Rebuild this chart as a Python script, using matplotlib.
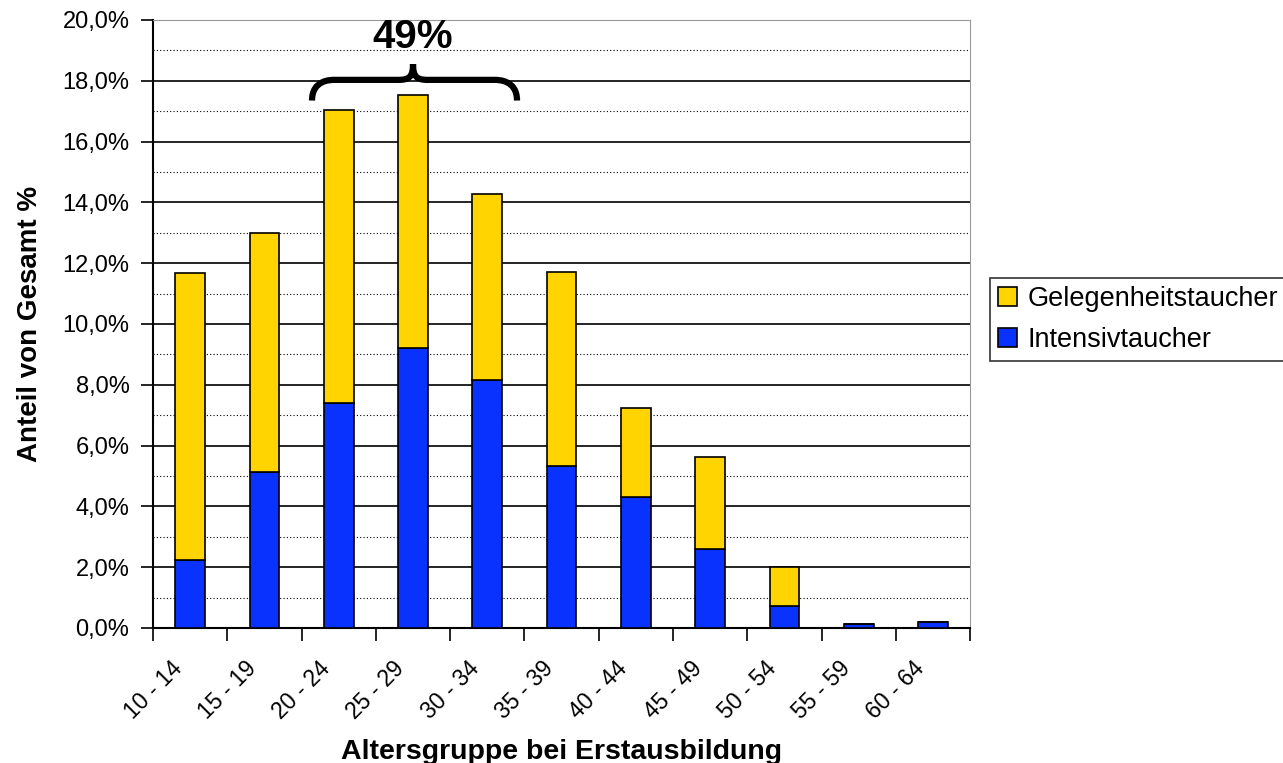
import numpy as np
import matplotlib.pyplot as plt
import matplotlib.transforms as mtrans
from matplotlib.path import Path
from matplotlib.patches import PathPatch
from matplotlib.ticker import MultipleLocator, FuncFormatter

plt.rcParams['font.family'] = ['Liberation Sans', 'DejaVu Sans']

# Altersgruppen und Anteile in %
gruppen = ['10 - 14', '15 - 19', '20 - 24', '25 - 29', '30 - 34', '35 - 39',
           '40 - 44', '45 - 49', '50 - 54', '55 - 59', '60 - 64']
intensiv = [2.24, 5.12, 7.40, 9.21, 8.16, 5.33, 4.31, 2.60, 0.72, 0.13, 0.20]
gesamt = [11.68, 12.99, 17.04, 17.53, 14.28, 11.71, 7.24, 5.63, 2.01, 0.13, 0.20]
gelegenheit = [g - i for g, i in zip(gesamt, intensiv)]

fig = plt.figure(figsize=(12.83, 7.63), dpi=100)
ax = fig.add_axes([0.1193, 0.177, 0.6368, 0.7968])

x = np.arange(len(gruppen))
ax.bar(x, intensiv, width=0.4, color='#0a32ff', edgecolor='black', linewidth=1.2,
       label='Intensivtaucher', zorder=3)
ax.bar(x, gelegenheit, bottom=intensiv, width=0.4, color='#ffd400', edgecolor='black',
       linewidth=1.2, label='Gelegenheitstaucher', zorder=3)

ax.set_xlim(-0.5, len(gruppen) - 0.5)
ax.set_ylim(0, 20)
ax.yaxis.set_major_locator(MultipleLocator(2))
ax.yaxis.set_minor_locator(MultipleLocator(1))
ax.yaxis.set_major_formatter(FuncFormatter(lambda v, p: f'{v:.1f}%'.replace('.', ',')))
ax.grid(axis='y', which='major', color='black', linewidth=1.2, zorder=0)
ax.grid(axis='y', which='minor', color='black', linewidth=0.8, linestyle=(0, (1, 2)), zorder=0)
ax.tick_params(axis='y', which='major', direction='out', length=9, width=1.2, labelsize=17, pad=8)
ax.tick_params(axis='y', which='minor', length=0)

ax.set_xticks(x)
ax.set_xticklabels(gruppen, rotation=45, ha='right', rotation_mode='anchor', fontsize=16.5)
ax.set_xticks(np.arange(-0.5, len(gruppen), 1), minor=True)
ax.tick_params(axis='x', which='major', length=0, pad=21)
ax.tick_params(axis='x', which='minor', direction='out', length=9, width=1.2)
shift = mtrans.ScaledTranslation(-20 / 100, 0, fig.dpi_scale_trans)
for lab in ax.get_xticklabels():
    lab.set_transform(lab.get_transform() + shift)

for s in ['top', 'right']:
    ax.spines[s].set_color('#999999')
for s in ['left', 'bottom']:
    ax.spines[s].set_linewidth(1.5)

ax.set_ylabel('Anteil von Gesamt %', fontsize=20, fontweight='bold', labelpad=14)
ax.set_xlabel('Altersgruppe bei Erstausbildung', fontsize=20.5, fontweight='bold', labelpad=11)

# geschweifte Klammer über 20-34
x0, x1, xm = 1.64, 4.40, 3.0
yb, yl, yt = 17.35, 18.03, 18.55
verts = [(x0, yb), (x0, yl), (x0 + 0.25, yl), (x0 + 0.3, yl),
         (xm - 0.2, yl), (xm - 0.2, yl), (xm - 0.05, yl), (xm, yl + 0.1), (xm, yt),
         (xm, yl + 0.1), (xm + 0.05, yl), (xm + 0.2, yl), (xm + 0.2, yl),
         (x1 - 0.3, yl), (x1 - 0.25, yl), (x1, yl), (x1, yb)]
codes = [Path.MOVETO, Path.CURVE4, Path.CURVE4, Path.CURVE4,
         Path.LINETO, Path.LINETO, Path.CURVE4, Path.CURVE4, Path.CURVE4,
         Path.CURVE4, Path.CURVE4, Path.CURVE4, Path.LINETO,
         Path.LINETO, Path.CURVE4, Path.CURVE4, Path.CURVE4]
ax.add_patch(PathPatch(Path(verts, codes), facecolor='none', edgecolor='black',
                       linewidth=4.5, clip_on=False, zorder=5))
ax.text(xm, 19.45, '49%', ha='center', va='center', fontsize=29, fontweight='bold')

handles, labels = ax.get_legend_handles_labels()
leg = fig.legend(handles[::-1], labels[::-1], loc='upper left',
                 bbox_to_anchor=(990 / 1283, 1 - 278 / 763), fontsize=19.5,
                 frameon=True, fancybox=False, edgecolor='black', handlelength=0.7,
                 handleheight=0.7, handletextpad=0.4, borderpad=0.3, labelspacing=0.55,
                 borderaxespad=0)
leg.get_frame().set_linewidth(1.2)

fig.savefig('out.png', dpi=100)
